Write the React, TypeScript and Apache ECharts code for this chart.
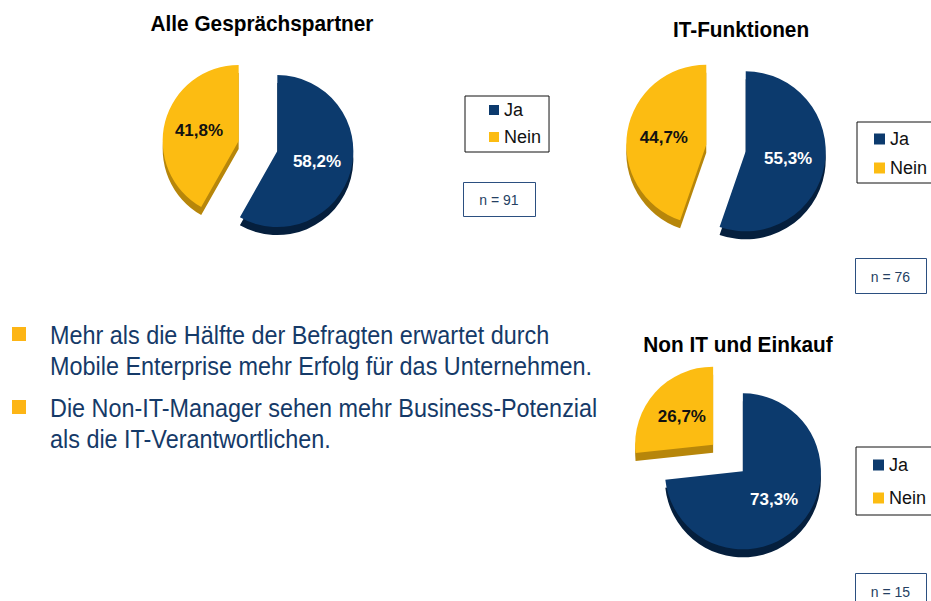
import React, { useEffect, useRef } from "react";
import * as echarts from "echarts";

// ---- data ----
const categories = ["Ja", "Nein"];
const groupTitles = ["Alle Gesprächspartner", "IT-Funktionen", "Non IT und Einkauf"];
const jaValues = [58.2, 55.3, 73.3];
const neinValues = [41.8, 44.7, 26.7];
const sampleSizes = [91, 76, 15];
const bulletPoints = [
  ["Mehr als die Hälfte der Befragten erwartet durch", "Mobile Enterprise mehr Erfolg für das Unternehmen."],
  ["Die Non-IT-Manager sehen mehr Business-Potenzial", "als die IT-Verantwortlichen."],
];

// ---- styles / layout ----
const BLUE = "#0c3a6d";
const BLUE_SIDE = "#051f3d";
const YELLOW = "#fcbc12";
const YELLOW_SIDE = "#b7860a";
const TEXT_BLUE = "#153a68";
const FONT = "'Liberation Sans', Arial, sans-serif";

const pieLayout = [
  { cx: 258, cy: 146, r: 76 },
  { cx: 726, cy: 148, r: 80 },
  { cx: 728, cy: 458, r: 78 },
];
const titleLayout = [
  { x: 262, y: 24 },
  { x: 741, y: 30 },
  { x: 738, y: 345 },
];
const legendLayout = [
  { left: 465, top: 96, padding: [5, 8, 6, 24], gap: 9, size: 10, font: 18 },
  { left: 857, top: 122, padding: [8, 20, 6, 17], gap: 11, size: 11, font: 18 },
  { left: 856, top: 447, padding: [9, 20, 8, 17], gap: 15, size: 11, font: 18 },
];
const nBoxLayout = [
  { x: 463, y: 182, w: 72, h: 34 },
  { x: 855, y: 258, w: 71, h: 35 },
  { x: 855, y: 573, w: 71, h: 35 },
];
const bulletLayout = { textX: 50, squareX: 12, size: 14, lineYs: [[335, 366], [408, 439]] };

const fmt = (v: number) => v.toFixed(1).replace(".", ",") + "%";

function buildOption() {
  const series: any[] = [];
  groupTitles.forEach((_, i) => {
    const L = pieLayout[i];
    const values = [jaValues[i], neinValues[i]];
    const common = {
      type: "pie",
      radius: L.r,
      startAngle: 90,
      clockwise: true,
      selectedMode: "multiple",
      selectedOffset: 20,
      silent: true,
      labelLine: { show: false },
      emphasis: { disabled: true },
    };
    series.push({
      ...common,
      name: "side" + i,
      center: [L.cx, L.cy + 8],
      z: 1,
      label: { show: false },
      data: categories.map((c, k) => ({
        name: c,
        value: values[k],
        selected: true,
        itemStyle: { color: k === 0 ? BLUE_SIDE : YELLOW_SIDE },
        select: { itemStyle: { color: k === 0 ? BLUE_SIDE : YELLOW_SIDE } },
      })),
    });
    series.push({
      ...common,
      name: groupTitles[i],
      center: [L.cx, L.cy],
      z: 2,
      label: {
        show: true,
        position: "inside",
        formatter: (p: any) => fmt(p.value),
        fontSize: 17,
        fontWeight: "bold",
        fontFamily: FONT,
      },
      data: categories.map((c, k) => {
        const col = k === 0 ? BLUE : YELLOW;
        return {
          name: c,
          value: values[k],
          selected: true,
          itemStyle: { color: col },
          select: { itemStyle: { color: col } },
          label: { color: k === 0 ? "#ffffff" : "#111111" },
        };
      }),
    });
  });

  const legend = legendLayout.map((L) => ({
    left: L.left,
    top: L.top,
    orient: "vertical",
    padding: L.padding,
    itemGap: L.gap,
    itemWidth: L.size,
    itemHeight: L.size,
    icon: "rect",
    selectedMode: false,
    borderColor: "#111",
    borderWidth: 1,
    backgroundColor: "#fff",
    textStyle: { fontSize: L.font, color: "#111", fontFamily: FONT },
    data: categories.map((c, k) => ({ name: c, itemStyle: { color: k === 0 ? BLUE : YELLOW } })),
  }));

  const graphic: any[] = [];
  groupTitles.forEach((t, i) => {
    graphic.push({
      type: "text",
      x: titleLayout[i].x,
      y: titleLayout[i].y,
      scaleX: 0.945,
      style: {
        text: t,
        x: 0,
        y: 0,
        align: "center",
        verticalAlign: "middle",
        font: `bold 22px ${FONT}`,
        fill: "#000",
      },
    });
  });
  sampleSizes.forEach((n, i) => {
    const B = nBoxLayout[i];
    graphic.push({
      type: "rect",
      shape: { x: B.x + 0.5, y: B.y + 0.5, width: B.w, height: B.h },
      style: { fill: "#fff", stroke: "#2b4f80", lineWidth: 1 },
    });
    graphic.push({
      type: "text",
      style: {
        text: `n = ${n}`,
        x: B.x + B.w / 2,
        y: B.y + B.h / 2 + 1,
        align: "center",
        verticalAlign: "middle",
        font: `14px ${FONT}`,
        fill: "#253f63",
      },
    });
  });
  bulletPoints.forEach((lines, bi) => {
    const ys = bulletLayout.lineYs[bi];
    graphic.push({
      type: "rect",
      shape: { x: bulletLayout.squareX, y: ys[0] - 8, width: bulletLayout.size, height: bulletLayout.size },
      style: { fill: "#fdb515" },
    });
    lines.forEach((line, li) => {
      graphic.push({
        type: "text",
        x: bulletLayout.textX,
        y: ys[li],
        scaleX: 0.9,
        style: {
          text: line,
          x: 0,
          y: 0,
          align: "left",
          verticalAlign: "middle",
          font: `26px ${FONT}`,
          fill: TEXT_BLUE,
        },
      });
    });
  });

  return {
    animation: false,
    backgroundColor: "#ffffff",
    legend,
    series,
    graphic,
  };
}

export default function App() {
  const ref = useRef<HTMLDivElement>(null);
  useEffect(() => {
    if (!ref.current) return;
    const chart = echarts.init(ref.current, null, { renderer: "svg" });
    chart.setOption(buildOption() as any);
    return () => chart.dispose();
  }, []);
  return (
    <div
      ref={ref}
      style={{ position: "fixed", left: 0, top: 0, width: 931, height: 601, background: "#fff" }}
    />
  );
}
